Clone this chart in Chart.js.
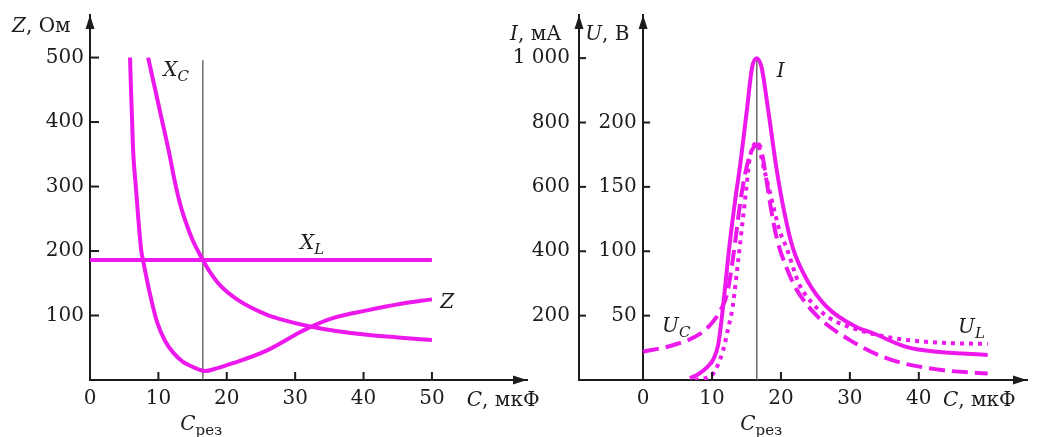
<!DOCTYPE html>
<html>
<head>
<meta charset="utf-8">
<script src="https://cdn.jsdelivr.net/npm/chart.js@4.4.0/dist/chart.umd.min.js"></script>
<style>
html, body { margin: 0; padding: 0; background: #fff; }
#wrap { position: relative; width: 1040px; height: 437px; overflow: hidden; }
#left { position: absolute; left: 0; top: 0; }
#right { position: absolute; left: 480px; top: 0; }
</style>
</head>
<body>
<div id="wrap">
  <canvas id="left" width="560" height="437"></canvas>
  <canvas id="right" width="560" height="437"></canvas>
</div>
<script>
// ---- левый график: сопротивления, Ом ----
const cRes = 16.5;
const zTicks = [100, 200, 300, 400, 500];
const cTicksLeft = [0, 10, 20, 30, 40, 50];

const xlC = [0, 50];
const xlVal = [186, 186];
const xcC = [8.5, 9.5, 10.5, 11.5, 12.4, 13.2, 14, 15, 15.8, 16.5, 17.5, 19, 21.5, 25.9, 29, 32.2, 36, 40.5, 45, 50];
const xcVal = [500, 452, 404, 356, 308, 272, 245, 217, 200, 186, 168, 147, 125, 101, 91, 83, 76, 70, 66, 62];
const zC = [5.85, 6.3, 6.7, 7.5, 7.75, 8.8, 9.8, 11, 12.2, 13.5, 15.1, 16.8, 18.5, 20.9, 25.9, 30.7, 32.2, 35.5, 40.5, 45.3, 50];
const zVal = [500, 357, 300, 200, 186, 132, 90, 60, 42, 29, 20, 14, 18, 26, 46, 74, 82, 96, 108, 118, 125];

// ---- правый график: ток, мА и напряжения, В ----
const iTicks = [200, 400, 600, 800, 1000];
const uTicks = [50, 100, 150, 200];
const cTicksRight = [0, 10, 20, 30, 40];

const iC = [6.8, 8, 9.3, 10.2, 10.9, 11.4, 12.6, 13.4, 14.1, 15.1, 15.8, 16.5, 17.2, 18.1, 19.4, 20.5, 21.7, 23.8, 26.7, 31, 33.3, 38.3, 43, 50];
const iVal = [6, 18, 40, 65, 110, 190, 430, 565, 670, 846, 970, 1000, 970, 846, 651, 520, 412, 310, 226, 164, 146, 102, 87, 78];
const ulC = [7.5, 10, 11.6, 12.3, 13, 13.8, 14.9, 15.5, 16.5, 17.5, 18.8, 19.8, 20.8, 22.6, 24.5, 27.1, 30, 35.8, 43, 50];
const ulVal = [0, 4, 23, 39, 57, 93, 145, 173, 184, 165, 137, 116, 103, 75, 60, 48, 41, 33, 29, 28];
const ucC = [0, 4.3, 8.3, 10.1, 11.2, 12.2, 13, 14.3, 15.5, 16.8, 18, 18.4, 19.4, 20.9, 22.3, 25.2, 30, 35.8, 43, 50];
const ucVal = [22, 27, 36, 45, 54, 67, 93, 145, 175, 183, 152, 138, 110, 86, 70, 50, 31, 16, 8, 5];

const MAG = 'rgb(236,24,236)';
const INK = '#1c1c1c';
const FONT = 'DejaVu Serif';

Chart.defaults.font.family = FONT;
Chart.defaults.font.size = 20;
Chart.defaults.color = INK;

function pts(cs, vs) {
  return cs.map(function(c, i){ return {x: c, y: vs[i]}; });
}

// текст с курсивом и индексами
const styles = {
  i:  {font: 'italic 20px ' + FONT, dy: 0},
  r:  {font: '20px ' + FONT, dy: 0},
  is: {font: 'italic 15px ' + FONT, dy: 5},
  rs: {font: '15px ' + FONT, dy: 5}
};
function rich(ctx, x, y, runs) {
  ctx.textAlign = 'left';
  ctx.textBaseline = 'alphabetic';
  runs.forEach(function(r){
    const st = styles[r[1]];
    ctx.font = st.font;
    ctx.fillText(r[0], x, y + st.dy);
    x += ctx.measureText(r[0]).width;
  });
}
function arrowUp(ctx, x, y) {
  ctx.beginPath();
  ctx.moveTo(x, y);
  ctx.lineTo(x - 4.5, y + 14);
  ctx.lineTo(x + 4.5, y + 14);
  ctx.closePath();
  ctx.fill();
}
function arrowRight(ctx, x, y) {
  ctx.beginPath();
  ctx.moveTo(x, y);
  ctx.lineTo(x - 14, y - 4.5);
  ctx.lineTo(x - 14, y + 4.5);
  ctx.closePath();
  ctx.fill();
}

const leftLabels = [
  {c: -11.4, v: 539, runs: [['Z', 'i'], [', Ом', 'r']]},
  {c: 10.7, v: 471, runs: [['X', 'i'], ['C', 'is']]},
  {c: 30.7, v: 203, runs: [['X', 'i'], ['L', 'is']]},
  {c: 51.2, v: 112, runs: [['Z', 'i']]},
  {c: 13.2, v: -77, runs: [['C', 'i'], ['рез', 'rs']]},
  {c: 55.1, v: -40, runs: [['C', 'i'], [', мкФ', 'r']]}
];
const rightLabels = [
  {c: -19.3, v: 1056, runs: [['I', 'i'], [', мА', 'r']]},
  {c: -8.4, v: 1056, runs: [['U', 'i'], [', В', 'r']]},
  {c: 19.4, v: 941, runs: [['I', 'i']]},
  {c: 2.75, v: 149, runs: [['U', 'i'], ['C', 'is']]},
  {c: 45.7, v: 146, runs: [['U', 'i'], ['L', 'is']]},
  {c: 14.1, v: -155, runs: [['C', 'i'], ['рез', 'rs']]},
  {c: 43.5, v: -80, runs: [['C', 'i'], [', мкФ', 'r']]}
];

// засечки внутрь, стрелки осей, подписи
function makeDecor(labels, yAxes, xTicks, tickLen) {
  return {
    id: 'decor',
    afterDraw: function(chart) {
      const ctx = chart.ctx, a = chart.chartArea;
      const sx = chart.scales.x;
      ctx.save();
      ctx.fillStyle = INK;
      xTicks.forEach(function(v){
        if (v === 0) return;
        const px = sx.getPixelForValue(v);
        ctx.fillRect(px - 1, a.bottom - 8, 2, 8);
      });
      yAxes.forEach(function(ax){
        const s = chart.scales[ax.id];
        const x0 = ax.at === null ? a.left : sx.getPixelForValue(ax.at);
        ax.ticks.forEach(function(v){
          const py = s.getPixelForValue(v);
          ctx.fillRect(x0, py - 1, tickLen, 2);
        });
        arrowUp(ctx, x0, a.top);
      });
      arrowRight(ctx, a.right, a.bottom);
      const sy = chart.scales[yAxes[0].id];
      labels.forEach(function(l){
        rich(ctx, sx.getPixelForValue(l.c), sy.getPixelForValue(l.v), l.runs);
      });
      ctx.restore();
    }
  };
}

function axisStyle(pad, list, size, suffix) {
  return {
    type: 'linear',
    afterBuildTicks: function(s){ s.ticks = list.map(function(v){ return {value: v}; }); },
    grid: {display: false, drawTicks: false},
    border: {display: true, color: INK, width: 2},
    ticks: {padding: pad, color: INK, font: {size: 20}, autoSkip: false, maxRotation: 0,
            callback: function(v){ return (v >= 1000 ? '1 000' : String(v)) + (suffix || ''); }},
    afterFit: function(s){
      size(s);
      s.paddingTop = 0; s.paddingBottom = 0; s.paddingLeft = 0; s.paddingRight = 0;
    }
  };
}

function curve(data, extra) {
  return Object.assign({
    data: data,
    borderColor: MAG,
    borderWidth: 4,
    pointRadius: 0,
    fill: false,
    cubicInterpolationMode: 'monotone'
  }, extra || {});
}

// левый график
new Chart(document.getElementById('left'), {
  type: 'line',
  data: {
    datasets: [
      curve(pts(xcC, xcVal)),
      curve(pts(zC, zVal)),
      curve(pts(xlC, xlVal)),
      curve([{x: cRes, y: 0}, {x: cRes, y: 496}], {borderColor: '#555', borderWidth: 1.3})
    ]
  },
  options: {
    responsive: false,
    animation: false,
    layout: {padding: {top: 15, right: 33, left: 0, bottom: 0}},
    plugins: {legend: {display: false}, tooltip: {enabled: false}},
    scales: {
      x: Object.assign(axisStyle(7, cTicksLeft, function(s){ s.height = 57; }), {position: 'bottom', min: 0, max: 63.9}),
      y: Object.assign(axisStyle(6, zTicks, function(s){ s.width = 90; }), {position: 'left', min: 0, max: 566})
    }
  },
  plugins: [makeDecor(leftLabels, [{id: 'y', at: null, ticks: zTicks}], cTicksLeft, 9)]
});

// правый график
new Chart(document.getElementById('right'), {
  type: 'line',
  data: {
    datasets: [
      curve(pts(iC, iVal), {yAxisID: 'yI'}),
      curve(pts(ulC, ulVal), {yAxisID: 'yU', borderDash: [4, 5]}),
      curve(pts(ucC, ucVal), {yAxisID: 'yU', borderDash: [16, 7]}),
      curve([{x: cRes, y: 0}, {x: cRes, y: 1000}], {yAxisID: 'yI', borderColor: '#555', borderWidth: 1.3})
    ]
  },
  options: {
    responsive: false,
    animation: false,
    layout: {padding: {top: 15, right: 13, left: 0, bottom: 0}},
    plugins: {legend: {display: false}, tooltip: {enabled: false}},
    scales: {
      x: Object.assign(axisStyle(7, cTicksRight, function(s){ s.height = 57; }), {position: 'bottom', min: -9.3, max: 55.7}),
      yI: Object.assign(axisStyle(9, iTicks, function(s){ s.width = 99; }), {position: 'left', min: 0, max: 1134}),
      yU: Object.assign(axisStyle(0, uTicks, function(s){}, ' '), {position: {x: 0}, min: 0, max: 283.5})
    }
  },
  plugins: [makeDecor(rightLabels, [{id: 'yI', at: null, ticks: iTicks}, {id: 'yU', at: 0, ticks: uTicks}], cTicksRight, 7)]
});
</script>
</body>
</html>
